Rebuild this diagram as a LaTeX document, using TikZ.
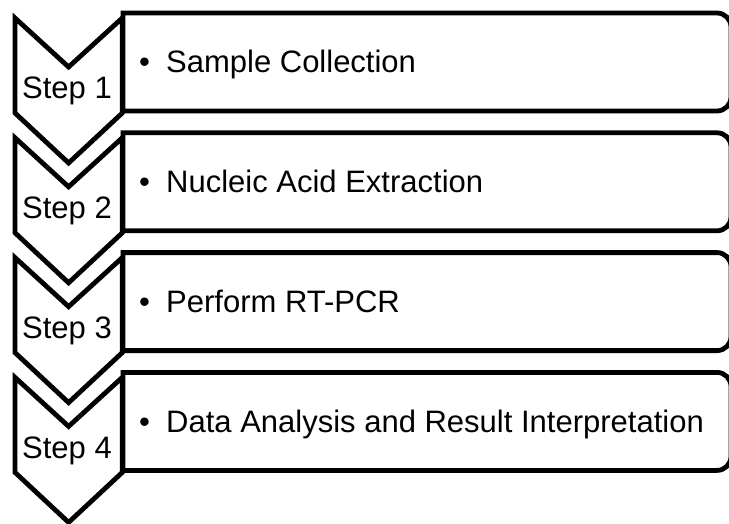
\documentclass[tikz,border=0pt]{standalone}
\usepackage{fontspec}
\setmainfont{Liberation Sans}
\begin{document}
\begin{tikzpicture}[x=1pt,y=-1pt,
  shapeline/.style={draw=black,line width=4.8pt,fill=white,line join=miter},
  steplabel/.style={font=\fontsize{31}{36}\selectfont,anchor=base,inner sep=0pt},
  itemlabel/.style={font=\fontsize{31}{36}\selectfont,anchor=base west,inner sep=0pt}]
\useasboundingbox (0,0) rectangle (729,524);
\fill[white] (0,0) rectangle (729,524);
\clip (0,0) rectangle (729,524);
\foreach \i/\lab/\txt in {0/1/Sample Collection,1/2/Nucleic Acid Extraction,2/3/Perform RT-PCR,3/4/Data Analysis and Result Interpretation}{
  \pgfmathsetmacro{\T}{13+119.8*\i}
  \draw[shapeline] (123,\T) -- (717,\T) arc[start angle=-90,end angle=0,radius=14]
     -- (731,\T+84) arc[start angle=0,end angle=90,radius=14] -- (123,\T+98) -- cycle;
  \draw[shapeline] (15,\T+5) -- (68.6,\T+54) -- (122.3,\T+5) -- (122.3,\T+100) -- (68.6,\T+150) -- (15,\T+100) -- cycle;
  \node[steplabel] (s\lab) at (67,\T+86) {Step \lab};
  \node[itemlabel] (t\lab) at (139,\T+60) {\makebox[27pt][l]{•}\txt};
}
\end{tikzpicture}
\end{document}
